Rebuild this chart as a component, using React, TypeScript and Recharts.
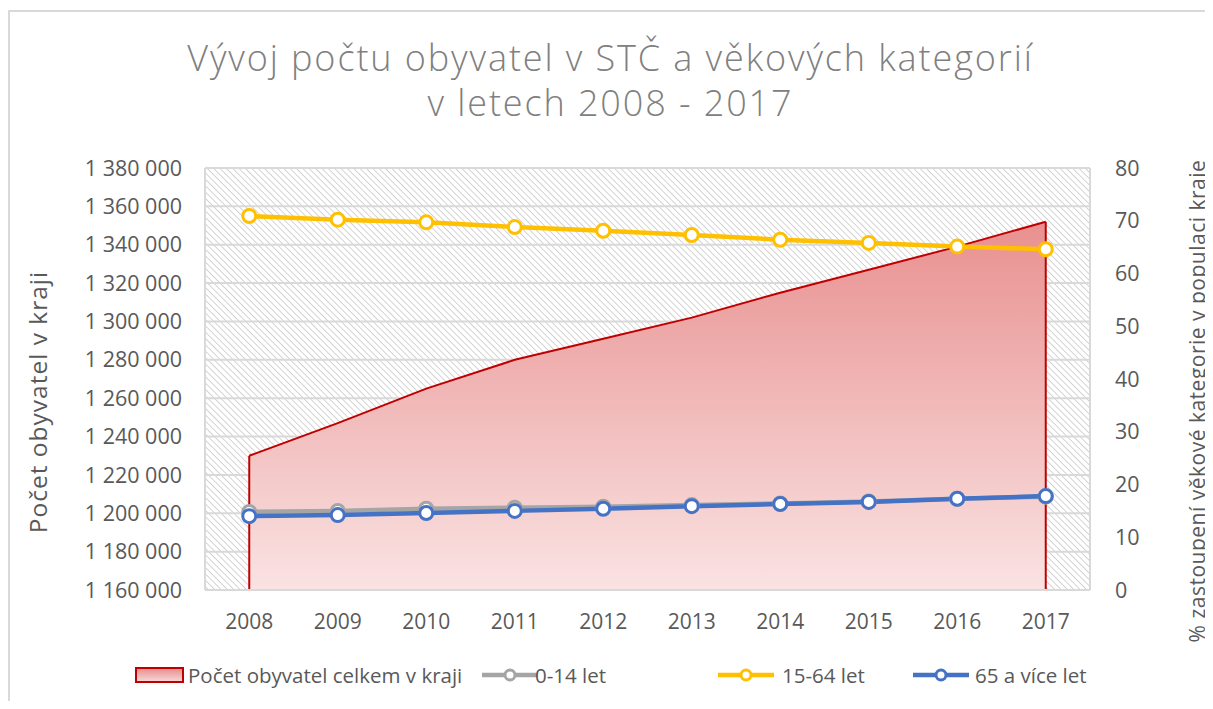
import React from 'react';
import { ComposedChart, Area, Line, XAxis, YAxis, CartesianGrid, ReferenceLine } from 'recharts';

const FONT = '"Open Sans", sans-serif';
const TEXT = '#595959';
const GRID = '#d9d9d9';

// categories
const years = ['2008', '2009', '2010', '2011', '2012', '2013', '2014', '2015', '2016', '2017'];

// total population of the region (left axis)
const totalPop = [1230000, 1247000, 1265000, 1280000, 1291000, 1302000, 1315000, 1327000, 1339000, 1352000];

// share of each age group in % (right axis)
const age0to14 = [14.8, 15.0, 15.4, 15.6, 15.8, 16.1, 16.4, 16.8, 17.3, 17.7];
const age15to64 = [70.9, 70.2, 69.7, 68.8, 68.1, 67.3, 66.4, 65.8, 65.1, 64.6];
const age65plus = [14.0, 14.2, 14.6, 15.0, 15.4, 15.9, 16.3, 16.7, 17.3, 17.8];

// axis ticks
const leftTicks = [1160000, 1180000, 1200000, 1220000, 1240000, 1260000, 1280000, 1300000, 1320000, 1340000, 1360000, 1380000];
const rightTicks = [0, 10, 20, 30, 40, 50, 60, 70, 80];
const bandTicks = [0, 1, 2, 3, 4, 5, 6, 7, 8, 9, 10];

const fmt = (v: number) => String(v).replace(/\B(?=(\d{3})+(?!\d))/g, ' ');

const LineIcon = ({ color }: { color: string }) => (
  <svg width={56} height={20} style={{ display: 'block' }}>
    <line x1={0} y1={10} x2={56} y2={10} stroke={color} strokeWidth={4.5} />
    <circle cx={28} cy={10} r={5} fill="#fff" stroke={color} strokeWidth={3} />
  </svg>
);

const AreaIcon = () => (
  <div style={{ width: 45, height: 12, border: '2px solid #C00000', background: 'linear-gradient(#E8908F, #F7D5D5)' }} />
);

const legendItems = [
  { iconLeft: 127, textLeft: 180, label: 'Počet obyvatel celkem v kraji', icon: <AreaIcon /> },
  { iconLeft: 474, textLeft: 527, label: '0-14 let', icon: <LineIcon color="#A5A5A5" /> },
  { iconLeft: 710, textLeft: 774, label: '15-64 let', icon: <LineIcon color="#FFC000" /> },
  { iconLeft: 905, textLeft: 967, label: '65 a více let', icon: <LineIcon color="#4472C4" /> },
];

// rotated axis title centred on (cx, cy)
const AxisTitle = ({ cx, cy, size, spacing, children }: { cx: number; cy: number; size: number; spacing: number; children: React.ReactNode }) => (
  <div
    style={{
      position: 'absolute',
      left: cx - 300,
      top: cy - 15,
      width: 600,
      height: 30,
      lineHeight: '30px',
      textAlign: 'center',
      transform: 'rotate(-90deg)',
      whiteSpace: 'nowrap',
      fontSize: size,
      letterSpacing: spacing,
    }}
  >
    {children}
  </div>
);

export default function App() {
  const data = years.map((year, i) => ({
    year,
    total: totalPop[i],
    a0: age0to14[i],
    a15: age15to64[i],
    a65: age65plus[i],
  }));

  const dot = (color: string) => ({ r: 6.5, fill: '#fff', stroke: color, strokeWidth: 3 });

  return (
    <div style={{ position: 'relative', width: 1205, height: 693, overflow: 'hidden', fontFamily: FONT, color: TEXT }}>
      <div style={{ position: 'absolute', left: 0, top: 2, right: -10, bottom: -10, borderTop: `2px solid ${GRID}`, borderLeft: `2px solid ${GRID}` }} />

      <div style={{ position: 'absolute', left: 0, top: 27, width: 1205, textAlign: 'center', fontSize: 36, fontWeight: 300, letterSpacing: 1.9, lineHeight: '45px', color: '#808080' }}>
        Vývoj počtu obyvatel v STČ a věkových kategorií<br />v letech 2008 - 2017
      </div>

      <ComposedChart
        width={1205}
        height={693}
        data={data}
        margin={{ top: 160, right: 0, bottom: 69, left: 0 }}
        style={{ position: 'absolute', left: 0, top: 0, fontFamily: FONT }}
      >
        <defs>
          <pattern id="hatch" patternUnits="userSpaceOnUse" width={4.5} height={4.5} patternTransform="rotate(-45)">
            <rect width={4.5} height={4.5} fill="#fff" />
            <line x1={0} y1={0} x2={0} y2={4.5} stroke="#c2c2c2" strokeWidth={1.4} />
          </pattern>
          <linearGradient id="popFill" x1="0" y1="0" x2="0" y2="1">
            <stop offset="0%" stopColor="#E8908F" />
            <stop offset="100%" stopColor="#FAE3E3" />
          </linearGradient>
        </defs>

        <CartesianGrid xAxisId="b" yAxisId="left" fill="url(#hatch)" fillOpacity={1} stroke={GRID} strokeWidth={2} />

        <XAxis
          xAxisId="b"
          type="number"
          domain={[0, 10]}
          ticks={bandTicks}
          tick={false}
          tickSize={7}
          tickLine={{ stroke: GRID, strokeWidth: 2 }}
          axisLine={{ stroke: GRID, strokeWidth: 2 }}
          height={1}
        />
        <XAxis
          xAxisId="x"
          dataKey="year"
          scale="band"
          axisLine={false}
          tickLine={false}
          tickSize={0}
          tickMargin={23}
          tick={{ fill: TEXT, fontSize: 21 }}
          height={41}
        />
        <YAxis
          yAxisId="left"
          domain={[leftTicks[0], leftTicks[leftTicks.length - 1]]}
          ticks={leftTicks}
          tickFormatter={fmt}
          axisLine={false}
          tickLine={false}
          tickSize={0}
          tickMargin={23}
          width={197}
          tick={{ fill: TEXT, fontSize: 21.5 }}
        />
        <YAxis
          yAxisId="right"
          orientation="right"
          domain={[0, 80]}
          ticks={rightTicks}
          axisLine={false}
          tickLine={false}
          tickSize={0}
          tickMargin={25}
          width={123}
          tick={{ fill: TEXT, fontSize: 21.5 }}
        />

        <Area
          xAxisId="x"
          yAxisId="left"
          type="linear"
          dataKey="total"
          baseValue={leftTicks[0]}
          stroke="#C00000"
          strokeWidth={2}
          fill="url(#popFill)"
          fillOpacity={1}
          isAnimationActive={false}
          activeDot={false}
        />
        <ReferenceLine
          xAxisId="x"
          yAxisId="left"
          segment={[{ x: years[0], y: leftTicks[0] }, { x: years[0], y: totalPop[0] }]}
          stroke="#C00000"
          strokeWidth={2}
        />
        <ReferenceLine
          xAxisId="x"
          yAxisId="left"
          segment={[{ x: years[years.length - 1], y: leftTicks[0] }, { x: years[years.length - 1], y: totalPop[totalPop.length - 1] }]}
          stroke="#C00000"
          strokeWidth={2}
        />

        <Line xAxisId="x" yAxisId="right" type="linear" dataKey="a0" stroke="#A5A5A5" strokeWidth={4.5} dot={dot('#A5A5A5')} activeDot={false} isAnimationActive={false} />
        <Line xAxisId="x" yAxisId="right" type="linear" dataKey="a15" stroke="#FFC000" strokeWidth={4.5} dot={dot('#FFC000')} activeDot={false} isAnimationActive={false} />
        <Line xAxisId="x" yAxisId="right" type="linear" dataKey="a65" stroke="#4472C4" strokeWidth={4.5} dot={dot('#4472C4')} activeDot={false} isAnimationActive={false} />
      </ComposedChart>

      <AxisTitle cx={30} cy={394} size={24.5} spacing={1}>Počet obyvatel v kraji</AxisTitle>
      <AxisTitle cx={1189} cy={393} size={21} spacing={0.5}>% zastoupení věkové kategorie v populaci kraje</AxisTitle>

      {legendItems.map((item) => (
        <React.Fragment key={item.label}>
          <div style={{ position: 'absolute', left: item.iconLeft, top: 657, height: 20, display: 'flex', alignItems: 'center' }}>
            {item.icon}
          </div>
          <div style={{ position: 'absolute', left: item.textLeft, top: 653, lineHeight: '28px', fontSize: 20.5, whiteSpace: 'nowrap' }}>
            {item.label}
          </div>
        </React.Fragment>
      ))}
    </div>
  );
}
